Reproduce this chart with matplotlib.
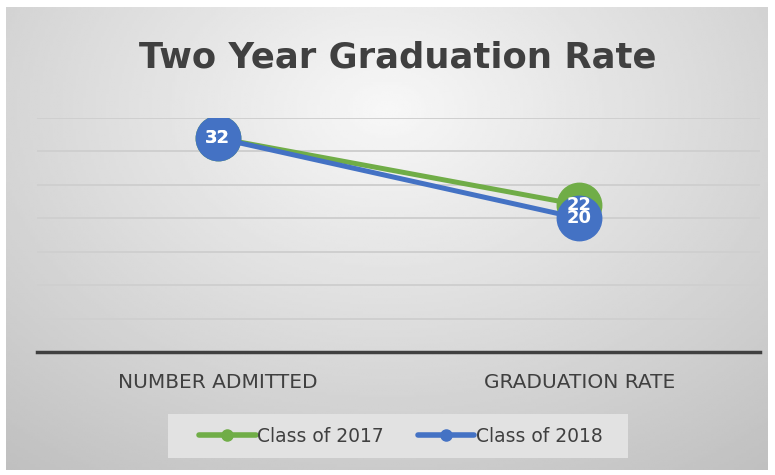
import numpy as np
import matplotlib.pyplot as plt
from matplotlib.patches import Rectangle

# --- data ---
categories = ["NUMBER ADMITTED", "GRADUATION RATE"]
class_2017 = [32, 22]
class_2018 = [32, 20]
series_names = ["Class of 2017", "Class of 2018"]
colors = ["#70AD47", "#4472C4"]

W, H = 775, 475
fig = plt.figure(figsize=(W / 100, H / 100), dpi=100)
fig.patch.set_facecolor("white")

# gradient background for the chart area
bg = fig.add_axes([6 / W, 5 / H, 762 / W, 463 / H])
yy, xx = np.mgrid[0:1:200j, 0:1:300j]
r = np.sqrt(((xx - 0.5) / 0.75) ** 2 + ((yy - 0.22) / 0.9) ** 2)
shade = 0.97 - 0.2 * np.clip(r, 0, 1.2)
bg.imshow(shade, cmap="gray", vmin=0, vmax=1, aspect="auto",
          extent=[0, 1, 0, 1], origin="upper")
bg.axis("off")

ax = fig.add_axes([37 / W, (H - 352) / H, 723 / W, 234 / H])
ax.patch.set_alpha(0)
x = np.arange(len(categories))

for vals, name, c in zip([class_2017, class_2018], series_names, colors):
    ax.plot(x, vals, color=c, lw=3.6, marker="o", markersize=32,
            solid_capstyle="round", label=name, zorder=3)
for vals in [class_2017, class_2018]:
    for xi, v in zip(x, vals):
        ax.text(xi, v, str(v), color="white", fontsize=13, fontweight="bold",
                ha="center", va="center", zorder=5)

ax.set_xlim(-0.5, 1.5)
ax.set_ylim(0, 35)
ax.set_yticks(np.arange(5, 36, 5))
ax.set_yticklabels([])
ax.tick_params(axis="y", length=0)
ax.grid(axis="y", color="#cfcfcf", lw=1.4)
ax.set_axisbelow(True)
for s in ["top", "right", "left"]:
    ax.spines[s].set_visible(False)
ax.spines["bottom"].set_color("#404040")
ax.spines["bottom"].set_linewidth(2.5)
ax.spines["bottom"].set_zorder(2)
ax.set_xticks(x)
ax.set_xticklabels(categories, fontsize=14.5, color="#404040")
ax.tick_params(axis="x", length=0, pad=15)

fig.text(398 / W, (H - 57) / H, "Two Year Graduation Rate", ha="center", va="center",
         fontsize=25.5, fontweight="bold", color="#404040")

# legend box and entries
fig.patches.append(Rectangle((168 / W, (H - 458) / H), 460 / W, 44 / H,
                             transform=fig.transFigure, facecolor="#e2e2e2",
                             edgecolor="none", zorder=1))
handles = [plt.Line2D([], [], color=c, lw=4, marker="o", markersize=8,
                      solid_capstyle="round") for c in colors]
leg = fig.legend(handles, series_names, loc="center", bbox_to_anchor=(401 / W, (H - 436) / H),
                 ncol=2, frameon=False, fontsize=13.5, handlelength=3, handletextpad=0.1,
                 columnspacing=1.8)
for t in leg.get_texts():
    t.set_color("#404040")

fig.savefig("out.png", dpi=100)
